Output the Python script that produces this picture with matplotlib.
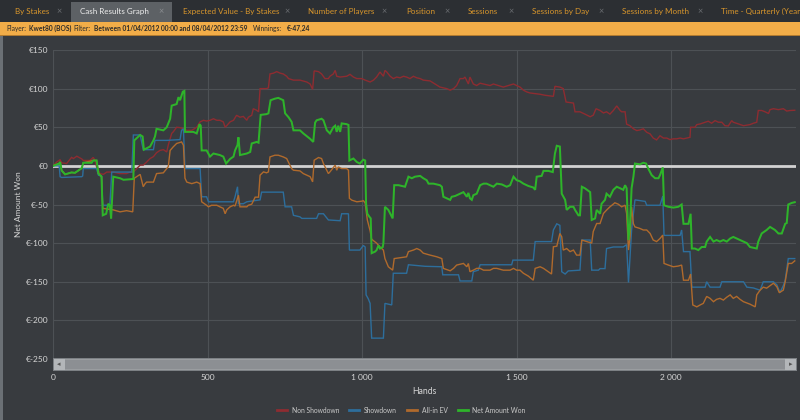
import matplotlib
matplotlib.use("Agg")
import matplotlib.pyplot as plt
from matplotlib.patches import Rectangle
from matplotlib.lines import Line2D
from matplotlib.ticker import FuncFormatter, FixedLocator

plt.rcParams['font.family'] = ['Lato', 'DejaVu Sans']

# ---------------- data ----------------
series_names = ["Non Showdown", "Showdown", "All-in EV", "Net Amount Won"]

ns_hands = [0, 12, 23, 28, 44, 60, 66, 77, 93, 98, 120, 130, 136, 141, 152, 163, 174, 195, 217, 238, 249, 260,
            271, 282, 292, 303, 314, 325, 335, 346, 357, 368, 373, 384, 389, 400, 411, 422, 433, 449, 465, 476,
            487, 497, 508, 519, 530, 540, 551, 557, 562, 573, 584, 594, 605, 616, 627, 632, 643, 648, 659, 665,
            670, 691, 697, 702, 713, 724, 735, 745, 756, 762, 778, 799, 821, 832, 840, 845, 859, 869, 880, 891,
            896, 907, 913, 918, 929, 950, 961, 972, 983, 999, 1010, 1026, 1037, 1047, 1058, 1069, 1074, 1080,
            1091, 1101, 1112, 1123, 1134, 1144, 1155, 1166, 1177, 1188, 1198, 1220, 1236, 1252, 1274, 1285,
            1296, 1306, 1317, 1328, 1333, 1344, 1349, 1360, 1371, 1382, 1393, 1414, 1425, 1441, 1457, 1474,
            1490, 1500, 1511, 1522, 1533, 1543, 1560, 1576, 1592, 1619, 1624, 1640, 1651, 1660, 1684, 1689,
            1705, 1721, 1738, 1748, 1757, 1770, 1781, 1791, 1802, 1813, 1824, 1835, 1840, 1851, 1856, 1867,
            1878, 1889, 1899, 1910, 1921, 1932, 1942, 1953, 1964, 1975, 1986, 1996, 2007, 2018, 2029, 2040,
            2050, 2061, 2063, 2077, 2083, 2094, 2110, 2120, 2131, 2142, 2153, 2164, 2174, 2185, 2196, 2201,
            2218, 2234, 2255, 2266, 2277, 2282, 2293, 2304, 2315, 2320, 2331, 2347, 2363, 2374, 2385, 2400]
ns_vals = [0, 5, 8, 4, 3, 11, 9.5, 12.5, 9, 7, 7, 11, 7, -1, -10, -11, -8, -8, -10, -10, -8, -8,
           -3.5, 1, 1, 5, 9.5, 12, 17, 20, 21, 18, 27, 42, 44, 50, 49.5, 48, 46, 46, 50, 57,
           59, 58, 59, 61, 59, 59, 57, 50, 52, 57, 59, 65.5, 63, 64, 59, 63, 65.5, 74, 72, 70,
           100, 100, 101, 119, 120, 122, 120, 119, 116, 113, 111, 111, 108.6, 106, 99, 123, 122, 119, 113, 113,
           116, 119, 123.6, 116, 115, 116, 118.5, 115, 113, 113, 111, 108.6, 111, 115, 121.5, 116, 123.6, 121.5,
           116, 113, 115, 114, 116, 115, 113, 116, 114, 113, 111, 110, 106, 102, 100, 98,
           100, 104, 113, 113, 115, 106, 115, 106, 104, 107, 106, 104, 106, 104, 102, 104,
           106, 104, 102, 98, 95.7, 94.4, 93.5, 92.7, 91.4, 90, 103, 102, 100, 82.7, 81.3, 70,
           70, 67, 63.6, 65.6, 74, 71.7, 68.5, 70, 67, 71.7, 77.6, 71.7, 70, 70, 54, 52,
           48, 45.7, 46.5, 48, 43.5, 41.4, 36, 33.6, 39, 36, 36, 34, 35, 35, 36, 35,
           36, 37, 50, 50, 53.4, 54.3, 56.5, 57.8, 55.2, 58.6, 56.5, 56.5, 52, 51.7, 58.6, 56.5,
           54.3, 52, 53.4, 55.2, 56.5, 71.7, 71.7, 70, 67.8, 72.8, 74, 72.8, 74, 71, 71.7, 72]

sd_hands = [0, 20, 23, 28, 93, 96, 98, 141, 147, 157, 161, 184, 190, 255, 260, 282, 292, 325, 330, 368, 411,
            416, 422, 427, 476, 481, 497, 503, 584, 589, 597, 600, 616, 627, 670, 675, 745, 751, 772, 778,
            799, 805, 853, 859, 875, 891, 929, 934, 956, 959, 993, 1004, 1010, 1013, 1020, 1026, 1031, 1069,
            1074, 1096, 1101, 1144, 1150, 1204, 1258, 1261, 1312, 1317, 1355, 1360, 1376, 1382, 1484, 1488,
            1554, 1560, 1613, 1619, 1630, 1640, 1646, 1657, 1667, 1705, 1711, 1738, 1743, 1765, 1770, 1786,
            1791, 1813, 1845, 1856, 1862, 1867, 1872, 1883, 1916, 1921, 1964, 1973, 1977, 2029, 2034, 2040,
            2061, 2067, 2110, 2115, 2126, 2158, 2164, 2234, 2245, 2266, 2288, 2298, 2331, 2342, 2352, 2363,
            2369, 2379, 2400]
sd_vals = [0, 0, -14, -15, -14, -13, -3.5, -3.5, -12, -13, -51, -51, -8, -8, 40, 40, 21, 21, 33, 33, 34,
           46, 48, -3.5, -3.5, -40, -40, -46.5, -46.5, -40, -27, -49, -49, -46.5, -44, -34, -34, -53, -53, -64,
           -66, -68, -68, -62, -62, -70, -71, -62, -62, -109, -109, -103, -105, -167, -172, -178, -223, -223,
           -178, -180, -139, -139, -128, -130, -130.6, -141, -141, -149, -149, -137, -135, -128, -128, -122,
           -122, -98, -98, -83, -75, -77, -137, -140, -136, -135, -96, -96, -135, -135, -133, -133,
           -107, -105, -105, -102, -151, -118, -83, -44, -46, -51, -51, -39, -90, -90, -83, -111,
           -111, -157, -157, -150, -157, -157, -150, -150, -157, -158, -161, -150, -150, -154, -164, -155,
           -148, -120, -120]

ev_hands = [0, 20, 23, 28, 39, 60, 71, 93, 98, 130, 141, 147, 157, 161, 195, 217, 238, 258, 263, 282, 292,
            298, 303, 325, 335, 357, 373, 379, 389, 400, 416, 422, 427, 433, 449, 465, 476, 481, 497, 503, 513,
            530, 540, 551, 557, 562, 573, 584, 589, 600, 605, 627, 632, 643, 654, 665, 670, 681, 691, 697, 702,
            718, 729, 745, 756, 772, 778, 799, 810, 832, 840, 845, 859, 869, 875, 891, 896, 913, 918, 923, 934,
            950, 956, 959, 967, 983, 999, 1004, 1010, 1017, 1026, 1031, 1047, 1058, 1069, 1074, 1085, 1099,
            1104, 1144, 1150, 1166, 1177, 1188, 1198, 1220, 1242, 1258, 1263, 1285, 1296, 1306, 1328, 1339,
            1344, 1349, 1360, 1371, 1382, 1393, 1414, 1425, 1436, 1457, 1479, 1490, 1500, 1511, 1522, 1538,
            1554, 1560, 1576, 1587, 1613, 1619, 1630, 1640, 1646, 1651, 1662, 1673, 1684, 1694, 1705, 1711,
            1727, 1743, 1748, 1759, 1770, 1781, 1791, 1802, 1818, 1829, 1840, 1851, 1856, 1862, 1867, 1872,
            1878, 1883, 1899, 1910, 1921, 1932, 1942, 1953, 1964, 1973, 1977, 1991, 2007, 2023, 2034, 2040,
            2056, 2063, 2070, 2083, 2094, 2104, 2115, 2126, 2137, 2147, 2158, 2169, 2180, 2191, 2201, 2212,
            2223, 2234, 2255, 2272, 2277, 2288, 2298, 2309, 2331, 2342, 2350, 2363, 2369, 2379, 2390, 2400]
ev_vals = [0, 3, 5, -6, -11, -8.5, -9, -3, 4, 7, 7, -10, -14, -55, -57, -59.5, -58, -59.5, -16, -11, -27,
           -23, -21, -21, -10, -9, -1, 20, 24.6, 29, 31, 26.7, -16, -21, -23, -21, -23, -46.5, -51, -53, -51,
           -51, -53, -55, -62, -57, -53, -51, -52, -38, -53, -53, -51, -49.6, -40.5, -40.5, -12, -7.8, -9, -7.8, 11.6,
           13.8, 13.8, 11.6, 9.5, -3.5, -5.6, -6.5, -10, -14, -20.7, 7.3, 10.8, 9.5, 3, -10, -7.8, 0.9, -5.6, -1.3, -3.5,
           -3.5, -5.6, -42, -44.4, -46.5, -45.7, -45, -48, -70, -84, -95, -100, -105, -109, -120, -130.6, -135,
           -120, -117.7, -111, -109, -107, -109, -113, -115.5, -117.7, -120, -132.7, -135.8, -132.7, -128.4, -126.3, -130.6,
           -126.3, -137, -135, -132.7, -132.7, -135, -135, -132.7, -132.7, -135, -135, -132.7, -135, -135, -139, -142.7,
           -148, -132.7, -130.6, -132.7, -140, -104.7, -104, -87.5, -91.8, -109, -107, -111, -109, -115.5, -115.5, -96,
           -98, -100, -85, -74.6, -74.6, -61.6, -57.3, -53, -47.8, -49.6, -53, -50.9, -61.6, -109, -91.8, -53,
           -75, -79, -81, -83, -83, -87.5, -96, -98, -94, -89.6, -126.3, -128.4, -130.6, -129.7, -128.4, -148,
           -148, -140, -180, -182.5, -180, -178, -169, -171.5, -175.8, -172.8, -171.5, -173.7, -170, -167, -171.5, -169,
           -172.8, -175.8, -179, -182.5, -167, -160.8, -157, -158.3, -151.9, -156.5, -164.2, -160.8, -150, -126.3, -126.3, -123]

nw_hands = [0, 20, 23, 28, 39, 60, 71, 93, 98, 125, 130, 141, 147, 157, 161, 172, 179, 184, 188, 195, 217,
            228, 260, 263, 282, 290, 294, 314, 325, 330, 335, 357, 368, 379, 384, 400, 406, 411, 420, 425, 427,
            454, 465, 474, 478, 481, 497, 508, 519, 540, 551, 560, 573, 584, 589, 597, 600, 605, 627, 638, 643,
            659, 665, 672, 691, 697, 704, 718, 729, 745, 751, 762, 772, 778, 799, 810, 832, 842, 848, 853, 869,
            875, 886, 896, 907, 913, 918, 923, 929, 934, 950, 956, 959, 972, 983, 993, 1004, 1010, 1013, 1017,
            1024, 1028, 1031, 1042, 1047, 1053, 1058, 1067, 1069, 1074, 1085, 1099, 1104, 1118, 1139, 1150,
            1161, 1171, 1188, 1198, 1209, 1215, 1231, 1252, 1258, 1263, 1274, 1285, 1290, 1301, 1317, 1328,
            1339, 1344, 1349, 1355, 1360, 1371, 1382, 1393, 1403, 1414, 1425, 1436, 1452, 1468, 1479, 1490,
            1500, 1511, 1522, 1538, 1554, 1560, 1565, 1581, 1587, 1603, 1617, 1624, 1630, 1640, 1646, 1657,
            1662, 1673, 1684, 1689, 1700, 1705, 1711, 1721, 1738, 1743, 1754, 1759, 1770, 1775, 1786, 1791,
            1802, 1813, 1824, 1835, 1845, 1851, 1856, 1862, 1867, 1872, 1878, 1883, 1899, 1910, 1919, 1926,
            1937, 1948, 1959, 1964, 1973, 1977, 1991, 2007, 2023, 2034, 2040, 2056, 2063, 2067, 2077, 2088,
            2099, 2110, 2115, 2126, 2137, 2147, 2158, 2169, 2180, 2191, 2201, 2212, 2223, 2234, 2245, 2255,
            2277, 2282, 2293, 2309, 2320, 2336, 2347, 2358, 2369, 2374, 2379, 2390, 2400]
nw_vals = [0, 3, 5, -6, -11, -8.5, -9, -3, 4, 4, 7, 7, -10, -14, -64, -62, -49, -51, -68, -14, -16,
           -18, -17, 33, 40, 38, 21, 25, 33, 38, 48, 46, 50, 61, 78, 80, 89, 85, 96, 97, 44,
           44, 42, 54, 52, 20, 20, 12, 16, 14, 12, 3, 9, 12, 20, 27, 37, 14, 16, 18, 29,
           31, 30, 66, 67, 68, 85, 87, 88, 85, 68, 63, 57, 46, 46, 42, 35, 31, 56, 59, 61,
           59, 46, 42, 50, 52, 44, 52, 44, 55, 54, 53, 7, 9.5, 5, 3, 8, 7, -49, -62,
           -66, -68, -113, -111, -109, -103, -107, -105, -100, -53, -57, -68, -25, -25, -27, -14,
           -16, -14, -13, -16, -18.5, -23, -23, -25, -27, -40, -42, -44, -40, -39, -36, -34,
           -40, -35, -42, -44, -38, -36, -25, -23, -23, -25, -27, -23, -24, -27, -25, -14,
           -18.5, -20, -23, -26, -28, -31, -14, -13, -6.5, -6.5, -8, 16, 26, 25, -36, -44,
           -57, -53, -53, -57, -64, -64, -27, -29, -34, -70, -68, -57, -62, -49, -44, -36,
           -40, -31, -27, -29, -31, -25, -29, -96, -75, -29, -14, 3, 2, 4, 3, -3.5,
           -12, -16, -16, -12, -2, -51, -53, -54, -53, -50, -75, -75, -62, -107, -107, -109,
           -105, -105, -98, -92, -98, -96, -98, -96, -98, -94, -92, -94, -96, -98, -100, -105,
           -107, -98, -87.5, -83, -79, -83, -87.5, -87.5, -75, -74, -50, -48, -47]

series_colors = ["#8e2c31", "#2d6e9c", "#b06a2c", "#2eb42a"]
series_widths = [1.0, 1.0, 1.0, 1.45]

y_ticks = [150, 100, 50, 0, -50, -100, -150, -200, -250]
x_ticks = [0, 500, 1000, 1500, 2000]
x_tick_labels = ["0", "500", "1 000", "1 500", "2 000"]

tabs = ["By Stakes", "Cash Results Graph", "Expected Value - By Stakes", "Number of Players", "Position",
        "Sessions", "Sessions by Day", "Sessions by Month", "Time - Quarterly (Year)"]
tab_text_x = [15, 80, 183, 308, 406, 468, 532, 622, 721]
tab_close_x = [59, 161, 287, 384, 447, 511, 601, 700, None]

# ---------------- figure ----------------
W, H = 800, 420
BG = "#383b3f"
fig = plt.figure(figsize=(W / 100, H / 100), dpi=100, facecolor=BG)

def fx(px):
    return px / W

def fy(py):
    return 1 - py / H

def rect(x0, y0, x1, y1, color, z=0):
    fig.add_artist(Rectangle((fx(x0), fy(y1)), fx(x1) - fx(x0), fy(y0) - fy(y1),
                             transform=fig.transFigure, facecolor=color, edgecolor="none", zorder=z))

# tab bar
rect(0, 0, 800, 22.5, "#2c2f33")
rect(71, 2, 172, 22.5, "#5d6165")
for i, (name, tx) in enumerate(zip(tabs, tab_text_x)):
    col = "#eeeeee" if i == 1 else "#d8962c"
    fig.text(fx(tx), fy(11.5), name, color=col, fontsize=5.8, ha="left", va="center")
    cx = tab_close_x[i]
    if cx is not None:
        fig.text(fx(cx), fy(11.5), "×", color="#8a8d90" if i == 1 else "#6b6e72",
                 fontsize=6.5, ha="center", va="center")

# filter bar
rect(0, 22.5, 800, 34.5, "#f2ad48")
rect(0, 34.5, 800, 35.5, "#b07a30")
filter_parts = [("Player:", False, 6), ("Kwet80 (BOS)", True, 29), ("Filter:", False, 73),
                ("Between 01/04/2012 00:00 and 08/04/2012 23:59", True, 94), ("Winnings:", False, 253),
                ("€-47,24", True, 287)]
for txt, bold, px in filter_parts:
    fig.text(fx(px), fy(28.6), txt, color="#2a2a2a", fontsize=4.75,
             fontweight="bold" if bold else "normal", ha="left", va="center")

# left window border
rect(0, 35.5, 2.5, 420, "#6b7075")

# ---------------- axes ----------------
ax_left, ax_right, ax_top, ax_bot = 53, 796, 50, 359
ax = fig.add_axes([fx(ax_left), fy(ax_bot), fx(ax_right) - fx(ax_left), fy(ax_top) - fy(ax_bot)])
ax.set_facecolor(BG)
ax.set_xlim(0, 2404)
ax.set_ylim(-250, 150)

ax.yaxis.set_major_locator(FixedLocator(y_ticks))
ax.xaxis.set_major_locator(FixedLocator(x_ticks))
ax.yaxis.set_major_formatter(FuncFormatter(lambda v, p: f"€{int(v)}"))
ax.set_xticklabels(x_tick_labels)
ax.grid(True, color="#4d5155", linewidth=0.8)
ax.set_axisbelow(True)
for s in ax.spines.values():
    s.set_visible(False)
ax.tick_params(axis="both", length=0, colors="#d6d6d6", labelsize=6.0)
ax.tick_params(axis="y", pad=3)
ax.tick_params(axis="x", pad=11)

ax.axhline(0, color="#d2d2d2", linewidth=2.0, zorder=1.5)

data = [(ns_hands, ns_vals), (sd_hands, sd_vals), (ev_hands, ev_vals), (nw_hands, nw_vals)]
for (hx, hv), col, lw, name in zip(data, series_colors, series_widths, series_names):
    ax.plot(hx, hv, color=col, linewidth=lw, label=name, zorder=2, solid_joinstyle="miter")

fig.text(fx(19), fy(204), "Net Amount Won", color="#d6d6d6", fontsize=6.0, rotation=90,
         ha="center", va="center")
fig.text(fx(424.5), fy(392), "Hands", color="#d6d6d6", fontsize=6.2, ha="center", va="center")

# scrollbar
rect(53, 357.5, 797, 370.5, "#7c8084", z=5)
rect(54, 358.5, 796, 369.5, "#9a9da0", z=5)
rect(65, 359.5, 785, 368.5, "#8c8f93", z=5)
rect(54, 358.5, 65, 369.5, "#b3b6b9", z=5)
rect(785, 358.5, 796, 369.5, "#b3b6b9", z=5)
fig.text(fx(59), fy(364), "◂", color="#555", fontsize=5, ha="center", va="center", zorder=6,
         family=["DejaVu Sans"])
fig.text(fx(791), fy(364), "▸", color="#555", fontsize=5, ha="center", va="center", zorder=6,
         family=["DejaVu Sans"])

# legend
leg_x = [277, 349, 407, 458]
for name, col, lx in zip(series_names, series_colors, leg_x):
    fig.add_artist(Line2D([fx(lx), fx(lx + 10)], [fy(410), fy(410)], transform=fig.transFigure,
                          color=col, linewidth=2.0))
    fig.text(fx(lx + 14.5), fy(410.5), name, color="#c8c8c8", fontsize=4.9, ha="left", va="center")

fig.savefig("out.png", dpi=100, facecolor=BG)
